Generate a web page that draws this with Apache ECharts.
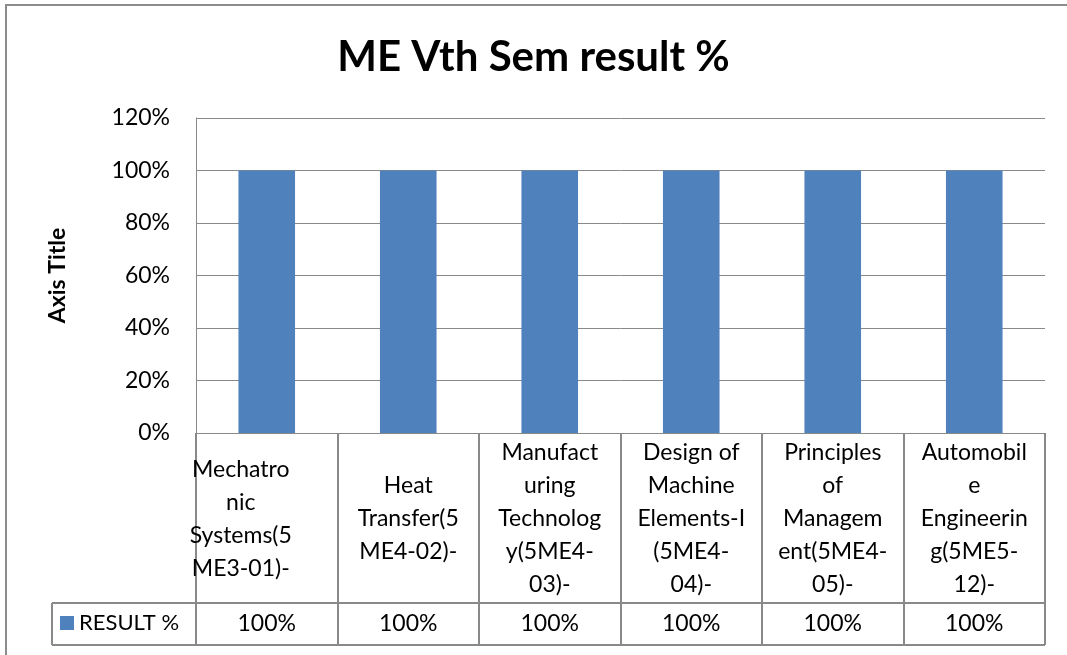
<!DOCTYPE html>
<html>
<head>
<meta charset="utf-8">
<script src="https://cdn.jsdelivr.net/npm/echarts@6/dist/echarts.min.js"></script>
<style>
  html, body { margin: 0; padding: 0; background: #fff; }
  #chart { width: 1067px; height: 655px; }
</style>
</head>
<body>
<div id="chart"></div>
<script>
// wrapped the way the original table cells wrap
const subjects = [
  'Mechatro\nnic\nSystems(5\nME3-01)-',
  'Heat\nTransfer(5\nME4-02)-',
  'Manufact\nuring\nTechnolog\ny(5ME4-\n03)-',
  'Design of\nMachine\nElements-I\n(5ME4-\n04)-',
  'Principles\nof\nManagem\nent(5ME4-\n05)-',
  'Automobil\ne\nEngineerin\ng(5ME5-\n12)-'
];
const resultPct = [1, 1, 1, 1, 1, 1];
const yTicks = [0, 0.2, 0.4, 0.6, 0.8, 1.0, 1.2];

const FONT = 'Lato';
const GRID = { left: 196, right: 22, top: 118, bottom: 222 };
const plotRight = 1067 - GRID.right;
const axisY = 655 - GRID.bottom; // 433
const rowTop = 603, rowBottom = 645, legendLeft = 52;
const gray = '#898989';

const chart = echarts.init(document.getElementById('chart'));

const pct = v => Math.round(v * 100) + '%';

chart.setOption({
  animation: false,
  title: {
    text: 'ME Vth Sem result %',
    left: 'center',
    top: 31,
    textStyle: { fontFamily: FONT, fontSize: 42, fontWeight: 'bold', color: '#000' }
  },
  legend: {
    left: 60,
    top: 612,
    padding: 0,
    icon: 'rect',
    itemWidth: 14,
    itemHeight: 14,
    itemGap: 0,
    textStyle: { fontFamily: FONT, fontSize: 22, color: '#000' },
    data: ['RESULT %']
  },
  grid: { left: GRID.left, right: GRID.right, top: GRID.top, bottom: GRID.bottom, containLabel: false },
  xAxis: [
    {
      type: 'category',
      data: subjects.map((s, i) => i === 0
        ? { value: s, textStyle: { padding: [0, 52, 0, 0], verticalAlign: 'middle' } }
        : s),
      axisLine: { lineStyle: { color: gray, width: 1 } },
      axisTick: { show: true, interval: 0, length: rowBottom - axisY, lineStyle: { color: gray, width: 2 } },
      axisLabel: {
        interval: 0,
        margin: 86,
        verticalAlign: 'middle',
        lineHeight: 33,
        fontFamily: FONT,
        fontSize: 23,
        color: '#000'
      }
    },
    {
      type: 'category',
      position: 'bottom',
      data: resultPct.map(pct),
      axisLine: { show: false },
      axisTick: { show: false },
      axisLabel: {
        interval: 0,
        margin: 191,
        verticalAlign: 'middle',
        fontFamily: FONT,
        fontSize: 23,
        color: '#000'
      }
    }
  ],
  yAxis: {
    type: 'value',
    min: yTicks[0],
    max: yTicks[yTicks.length - 1],
    interval: 0.2,
    name: 'Axis Title',
    nameLocation: 'middle',
    nameRotate: 90,
    nameGap: 127,
    nameTextStyle: { fontFamily: FONT, fontSize: 23, fontWeight: 'bold', color: '#000' },
    axisLine: { show: true, lineStyle: { color: gray, width: 1 } },
    axisTick: { show: false },
    axisLabel: {
      margin: 26,
      fontFamily: FONT,
      fontSize: 23,
      color: '#000',
      formatter: pct
    },
    splitLine: { lineStyle: { color: gray, width: 1 } }
  },
  series: [
    {
      name: 'RESULT %',
      type: 'bar',
      data: resultPct,
      barWidth: '40%',
      itemStyle: { color: '#4f81bd' }
    }
  ],
  graphic: [
    // outer chart border
    { type: 'rect', shape: { x: 6, y: 5, width: 1200, height: 800 }, style: { fill: 'none', stroke: '#8c8c8c', lineWidth: 2 }, silent: true },
    // data table row lines
    { type: 'line', shape: { x1: legendLeft, y1: rowTop, x2: plotRight, y2: rowTop }, style: { stroke: gray, lineWidth: 2 } },
    { type: 'line', shape: { x1: legendLeft, y1: rowBottom, x2: plotRight, y2: rowBottom }, style: { stroke: gray, lineWidth: 2 } },
    { type: 'line', shape: { x1: legendLeft, y1: rowTop, x2: legendLeft, y2: rowBottom }, style: { stroke: gray, lineWidth: 2 } }
  ]
});

window.addEventListener('resize', () => chart.resize());
</script>
</body>
</html>
